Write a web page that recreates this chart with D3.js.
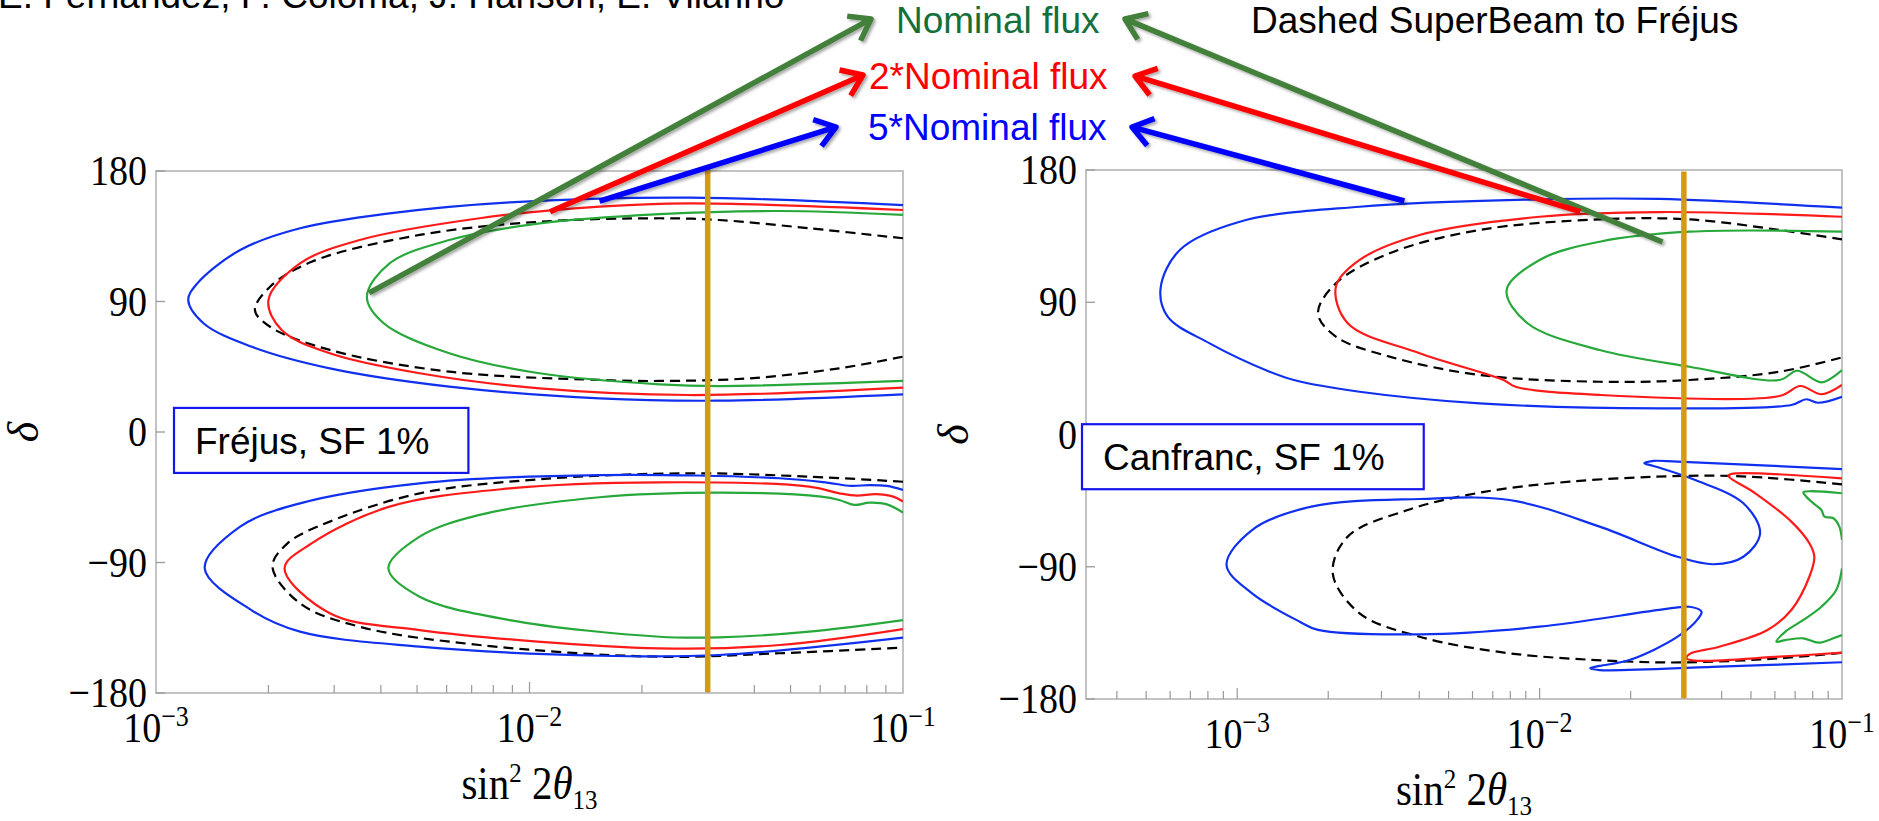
<!DOCTYPE html>
<html>
<head>
<meta charset="utf-8">
<script src="https://cdn.jsdelivr.net/npm/d3@7"></script>
<style>
  body { margin: 0; background: #fff; }
  svg { display: block; }
</style>
</head>
<body>
<div id="chart"></div>
<script>
const W = 1879, H = 821;

// colours
const blue = "#1030f0", red = "#ff1a1a", green = "#27a83a", gold = "#d39b14";
const arrowGreen = "#43803a", arrowRed = "#ff0000", arrowBlue = "#0000ff";

// ---- Fréjus panel contours, [sin^2 2theta13, delta] ----
const frejusBlueUp = [[0.1,156.5],[0.0267,161.6],[0.00885,158.4],[0.00422,150.8],[0.00243,140.5],[0.00168,125.5],[0.00129,102.5],[0.00122,91],[0.00134,75],[0.0018,58.9],[0.00292,43.9],[0.0061,31.3],[0.0154,23.2],[0.0322,21.6],[0.1,26]];
const frejusRedUp = [[0.1,153.1],[0.0267,157.7],[0.0154,155.4],[0.00735,147.4],[0.00351,132.4],[0.00243,116.3],[0.0020,91],[0.00217,70.3],[0.00292,54.3],[0.00508,40.5],[0.01064,30.1],[0.0267,25.5],[0.1,30.6]];
const frejusGreenUp = [[0.1,149.7],[0.0467,152.4],[0.0223,150.3],[0.01064,143.9],[0.0061,132.4],[0.00422,116.3],[0.00367,93.3],[0.00407,75],[0.0061,54.3],[0.01064,40.5],[0.0223,32.9],[0.0322,31.7],[0.1,35.2]];
const frejusDashUp = [[0.1,133.6],[0.0561,140.5],[0.0322,146.2],[0.0223,147.4],[0.01064,145],[0.00508,135.9],[0.00261,117.4],[0.00202,100.2],[0.00184,84.1],[0.00202,72.6],[0.00292,56.6],[0.0061,41.6],[0.0154,35.9],[0.0223,35.2],[0.0388,37],[0.0675,43.9],[0.1,52]];
const frejusBlueLow = [[0.1,-40],[0.0906,-37.2],[0.0813,-36.6],[0.0727,-37.2],[0.0626,-34.9],[0.0467,-31.9],[0.0154,-29.7],[0.00508,-35.4],[0.00243,-49.2],[0.00168,-65.3],[0.00135,-94],[0.0018,-122.8],[0.00243,-137.7],[0.00508,-148],[0.0154,-154.3],[0.0322,-153.8],[0.1,-141.8]];
const frejusRedLow = [[0.1,-48],[0.0942,-44.6],[0.0843,-42.8],[0.0754,-43.9],[0.0675,-42.3],[0.0561,-37.7],[0.0223,-34.7],[0.00885,-38.9],[0.00422,-51.5],[0.00261,-76.8],[0.00221,-94],[0.00292,-125],[0.00508,-136.6],[0.0223,-149.2],[0.0467,-146.9],[0.1,-135.9]];
const frejusGreenLow = [[0.1,-55.6],[0.0906,-49.9],[0.0813,-48.7],[0.0741,-50.3],[0.0675,-46.9],[0.0604,-44.6],[0.0322,-41.8],[0.0154,-45],[0.00735,-57.2],[0.00508,-72.2],[0.00419,-94],[0.00508,-113.6],[0.00885,-129.7],[0.0223,-141.2],[0.0322,-141.6],[0.0561,-137.7],[0.1,-129.7]];
const frejusDashLow = [[0.1,-34.3],[0.0561,-30.8],[0.0267,-28.5],[0.01064,-32.6],[0.00508,-42.3],[0.00292,-61.8],[0.00225,-76.8],[0.00205,-92.9],[0.00243,-118.2],[0.00351,-134.3],[0.00735,-146.9],[0.0223,-155],[0.0467,-152.6],[0.1,-148.7]];

// ---- Canfranc panel contours ----
const canfrancBlueUp = [[0.1,154.4],[0.0249,160.3],[0.01,160],[0.00254,155],[0.00102,144.8],[0.000646,125.6],[0.000558,99.5],[0.000589,80.2],[0.000811,62],[0.00128,42.7],[0.00154,37.1],[0.00254,29.1],[0.00633,21.2],[0.0249,17.8],[0.068,20.1],[0.0762,24],[0.0835,21.6],[0.1,25.7]];
const canfrancRedUp = [[0.1,148.2],[0.0249,151.4],[0.01,148.2],[0.00401,135.8],[0.00254,118.8],[0.00212,100.6],[0.00232,75.7],[0.00401,55.3],[0.0076,37.1],[0.00833,32.5],[0.0158,26.9],[0.0621,26.2],[0.0728,33],[0.0855,27.4],[0.1,33.7]];
const canfrancGreenUp = [[0.1,138],[0.0313,138],[0.0158,131.2],[0.01,118.8],[0.00778,98.3],[0.00912,75.7],[0.0158,57.5],[0.0313,46.1],[0.0621,37.1],[0.0711,43.4],[0.0855,35.5],[0.1,43.9]];
const canfrancDashUp = [[0.1,132.8],[0.0621,139.2],[0.0313,146.4],[0.0158,146.4],[0.00633,139.2],[0.00319,123.3],[0.00212,102.9],[0.00185,82.5],[0.00212,66.6],[0.00319,53],[0.00633,40.5],[0.0158,35.9],[0.0313,37.1],[0.0621,42.7],[0.1,52.5]];
const canfrancBlueLow = [[0.1,-23.5],[0.0286,-18.5],[0.0238,-18],[0.0222,-19.6],[0.0238,-21.4],[0.0327,-31],[0.0472,-46.8],[0.0536,-67.2],[0.0472,-83.2],[0.0376,-88.3],[0.0286,-83.2],[0.0158,-62.7],[0.00795,-44.6],[0.00401,-43.9],[0.00176,-49.1],[0.00112,-65],[0.000922,-88.8],[0.00112,-108.1],[0.00161,-127.4],[0.00185,-133],[0.00401,-136],[0.01,-130.8],[0.0249,-119.4],[0.0313,-117.2],[0.0343,-120.6],[0.0335,-125.1],[0.0286,-137.6],[0.0198,-153.5],[0.0158,-157.5],[0.0147,-159.1],[0.0158,-160.3],[0.0393,-158],[0.1,-155]];
const canfrancRedLow = [[0.1,-29.8],[0.043,-26.9],[0.0421,-28.2],[0.0517,-40],[0.068,-59.3],[0.078,-74],[0.081,-83.2],[0.078,-96.8],[0.068,-119.4],[0.0567,-133],[0.0393,-144.4],[0.0313,-149.4],[0.0306,-152.3],[0.0327,-153.9],[0.0621,-151.2],[0.1,-148.5]];
const canfrancGreenLowA = [[0.1,-40],[0.0745,-39.3],[0.0762,-42.3],[0.0817,-48],[0.0855,-51.4],[0.0875,-55.9],[0.0937,-57],[0.098,-62.7],[0.1,-71.8]];
const canfrancGreenLowB = [[0.1,-91.1],[0.0957,-105.8],[0.0855,-117.2],[0.0745,-126.2],[0.065,-134.2],[0.0607,-141],[0.065,-139.9],[0.0745,-138.7],[0.0836,-141.7],[0.0937,-138.7],[0.1,-136.5]];
const canfrancDashLow = [[0.1,-33.9],[0.0494,-28.7],[0.0299,-28.2],[0.01255,-32.1],[0.00633,-39.6],[0.00366,-51.4],[0.00232,-69.5],[0.00207,-94.5],[0.00254,-121.7],[0.00401,-137.6],[0.00795,-148.9],[0.0181,-154.2],[0.0299,-155.1],[0.0621,-152.3],[0.1,-148.5]];

// reference value of sin^2 2theta13 (vertical bar)
const theta13Line = 0.03;

const yTicks = [-180, -90, 0, 90, 180];
const xMajorTicks = [1e-3, 1e-2, 1e-1];

const panels = [
  { left: 156, right: 903, top: 171, bottom: 693, xDomain: [1e-3, 1e-1], label: "Fréjus, SF 1%",
    boxTop: 16.6,
    series: [
      [frejusDashUp, "#000", true], [frejusDashLow, "#000", true],
      [frejusBlueUp, blue], [frejusRedUp, red], [frejusGreenUp, green],
      [frejusBlueLow, blue], [frejusRedLow, red], [frejusGreenLow, green]
    ] },
  { left: 1086, right: 1842, top: 170, bottom: 699, xDomain: [Math.pow(10, -3.5), 1e-1], label: "Canfranc, SF 1%",
    boxTop: 7,
    series: [
      [canfrancDashUp, "#000", true], [canfrancDashLow, "#000", true],
      [canfrancBlueUp, blue], [canfrancRedUp, red], [canfrancGreenUp, green],
      [canfrancBlueLow, blue], [canfrancRedLow, red], [canfrancGreenLowA, green], [canfrancGreenLowB, green]
    ] }
];

// arrows: tail in panel data coords, head in page px near the labels
const arrows = [
  { panel: 0, s: 3.72e-3, d: 95.9, head: [871, 19], color: arrowGreen },
  { panel: 0, s: 0.01135, d: 151.9, head: [863, 75], color: arrowRed },
  { panel: 0, s: 0.0154, d: 159.3, head: [836, 127], color: arrowBlue },
  { panel: 1, s: 0.0255, d: 131, head: [1125, 19], color: arrowGreen },
  { panel: 1, s: 0.01363, d: 151.6, head: [1135, 76], color: arrowRed },
  { panel: 1, s: 3.57e-3, d: 158.9, head: [1132, 127], color: arrowBlue }
];

const svg = d3.select("#chart").append("svg").attr("width", W).attr("height", H);
const defs = svg.append("defs");
const f = defs.append("filter").attr("id", "shadow").attr("x", "-10%").attr("y", "-10%").attr("width", "130%").attr("height", "130%");
f.append("feDropShadow").attr("dx", 2).attr("dy", 2).attr("stdDeviation", 1.5)
  .attr("flood-color", "#000").attr("flood-opacity", 0.35);

const serif = "'Liberation Serif', 'Times New Roman', serif";
const sans = "'Liberation Sans', Arial, sans-serif";

// serif labels are drawn a bit taller, like the original frame labels
function tallText(g, x, y, anchor, size) {
  return g.append("text").attr("transform", `translate(${x},${y}) scale(1,1.13)`)
    .attr("text-anchor", anchor).attr("font-family", serif).attr("font-size", size);
}

panels.forEach((p, i) => {
  const x = d3.scaleLog().domain(p.xDomain).range([p.left, p.right]);
  const y = d3.scaleLinear().domain([-180, 180]).range([p.bottom, p.top]);
  p.x = x; p.y = y;
  const g = svg.append("g");

  defs.append("clipPath").attr("id", "clip" + i).append("rect")
    .attr("x", p.left).attr("y", p.top).attr("width", p.right - p.left).attr("height", p.bottom - p.top);

  // frame
  g.append("rect").attr("x", p.left).attr("y", p.top)
    .attr("width", p.right - p.left).attr("height", p.bottom - p.top)
    .attr("fill", "none").attr("stroke", "#b4b4b4").attr("stroke-width", 1.6);

  // y ticks (inside)
  yTicks.forEach(t => {
    g.append("line").attr("x1", p.left).attr("x2", p.left + 9)
      .attr("y1", y(t)).attr("y2", y(t)).attr("stroke", "#999").attr("stroke-width", 1.3);
    tallText(g, p.left - 9, y(t) + 14, "end", 38)
      .text(t < 0 ? "\u2212" + Math.abs(t) : t);
  });

  // x ticks: minor + major
  const lo = Math.floor(Math.log10(p.xDomain[0])), hi = Math.ceil(Math.log10(p.xDomain[1]));
  for (let e = lo; e < hi; e++) {
    for (let k = 1; k <= 9; k++) {
      const v = k * Math.pow(10, e);
      if (v < p.xDomain[0] * 1.0001 || v > p.xDomain[1] * 0.9999) continue;
      g.append("line").attr("x1", x(v)).attr("x2", x(v))
        .attr("y1", p.bottom).attr("y2", p.bottom - (k === 1 ? 11 : 8))
        .attr("stroke", "#999").attr("stroke-width", 1.2);
    }
  }
  xMajorTicks.forEach(t => {
    const tx = tallText(g, x(t), p.bottom + 49, "middle", 38);
    tx.append("tspan").text("10");
    tx.append("tspan").attr("dy", -14).attr("font-size", 26).text("\u2212" + Math.round(-Math.log10(t)));
  });

  // axis titles
  const xt = tallText(g, (p.left + p.right) / 2, p.bottom + 106, "middle", 41);
  xt.append("tspan").text("sin");
  xt.append("tspan").attr("dy", -15).attr("font-size", 25).text("2");
  xt.append("tspan").attr("dy", 15).text(" 2");
  xt.append("tspan").attr("font-style", "italic").text("\u03b8");
  xt.append("tspan").attr("dy", 9).attr("font-size", 25).text("13");

  const cy = (p.top + p.bottom) / 2;
  g.append("text").attr("transform", `translate(${p.left - 118},${cy}) rotate(-90)`)
    .attr("text-anchor", "middle").attr("font-family", serif).attr("font-style", "italic")
    .attr("font-size", 44).text("\u03b4");

  // contours
  const line = d3.line().x(d => x(d[0])).y(d => y(d[1])).curve(d3.curveCatmullRom.alpha(0.5));
  const cg = g.append("g").attr("clip-path", `url(#clip${i})`);
  p.series.forEach(([data, color, dashed]) => {
    cg.append("path").attr("d", line(data)).attr("fill", "none")
      .attr("stroke", color).attr("stroke-width", 2.2)
      .attr("stroke-dasharray", dashed ? "10,6" : null);
  });

  // theta13 bar
  g.append("line").attr("x1", x(theta13Line)).attr("x2", x(theta13Line))
    .attr("y1", y(i === 0 ? 183 : 179)).attr("y2", y(-179.5))
    .attr("stroke", gold).attr("stroke-width", 5.5);

  // label box
  const bx = p.left + (i === 0 ? 18 : -4), by = y(p.boxTop);
  const box = g.append("rect").attr("x", bx).attr("y", by).attr("height", 65)
    .attr("fill", "#fff").attr("stroke", "#1515ee").attr("stroke-width", 2.2);
  const lt = g.append("text").attr("x", bx + 21).attr("y", by + 46)
    .attr("font-family", sans).attr("font-size", 37).text(p.label);
  box.attr("width", lt.node().getComputedTextLength() + 60);
});

// arrows
function arrowPath(x1, y1, x2, y2) {
  const a = Math.atan2(y2 - y1, x2 - x1), L = 24, sp = 0.62;
  const p1 = [x2 - L * Math.cos(a - sp), y2 - L * Math.sin(a - sp)];
  const p2 = [x2 - L * Math.cos(a + sp), y2 - L * Math.sin(a + sp)];
  const ex = x2 - 3 * Math.cos(a), ey = y2 - 3 * Math.sin(a);
  return `M${x1},${y1}L${ex},${ey}M${p1[0]},${p1[1]}L${x2},${y2}L${p2[0]},${p2[1]}`;
}
const ag = svg.append("g").attr("filter", "url(#shadow)");
arrows.forEach(a => {
  const p = panels[a.panel];
  ag.append("path").attr("d", arrowPath(p.x(a.s), p.y(a.d), a.head[0], a.head[1]))
    .attr("fill", "none").attr("stroke", a.color).attr("stroke-width", 5.5)
    .attr("stroke-linejoin", "round").attr("stroke-linecap", "butt");
});

// annotation texts (author line sits cut at the top edge, as in the original slide)
const notes = [
  { text: "Nominal flux", x: 896, y: 33, color: "#137038" },
  { text: "2*Nominal flux", x: 869, y: 89, color: "#ff0000" },
  { text: "5*Nominal flux", x: 868, y: 140, color: "#0000ff" },
  { text: "Dashed SuperBeam to Fréjus", x: 1251, y: 33, color: "#000" },
  { text: "E. Fernandez, P. Coloma, J. Hanson, E. Vilarino", x: -2, y: 8, color: "#000" }
];
notes.forEach(n => {
  svg.append("text").attr("x", n.x).attr("y", n.y).attr("fill", n.color)
    .attr("font-family", sans).attr("font-size", 37).text(n.text);
});
</script>
</body>
</html>
